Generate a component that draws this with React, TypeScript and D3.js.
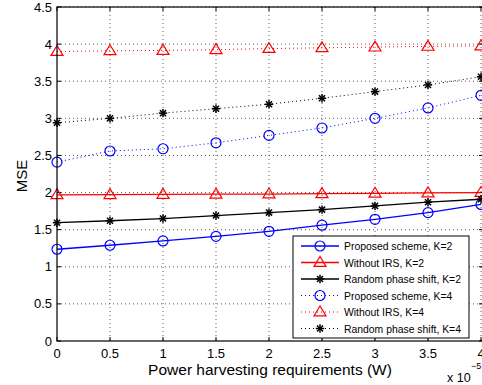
import React from "react";
import * as d3 from "d3";

const xValues = [0, 0.5, 1, 1.5, 2, 2.5, 3, 3.5, 4];
const proposedK2 = [1.236, 1.29, 1.348, 1.41, 1.478, 1.56, 1.64, 1.73, 1.84];
const withoutK2 = [1.97, 1.972, 1.975, 1.978, 1.98, 1.985, 1.99, 1.995, 2.0];
const randomK2 = [1.594, 1.62, 1.65, 1.69, 1.73, 1.77, 1.82, 1.87, 1.91];
const proposedK4 = [2.41, 2.56, 2.59, 2.67, 2.77, 2.87, 3.0, 3.14, 3.31];
const withoutK4 = [3.9, 3.91, 3.915, 3.925, 3.94, 3.95, 3.96, 3.97, 3.975];
const randomK4 = [2.94, 3.0, 3.07, 3.13, 3.19, 3.27, 3.36, 3.45, 3.56];

const xTicks = [0, 0.5, 1, 1.5, 2, 2.5, 3, 3.5, 4];
const yTicks = [0, 0.5, 1, 1.5, 2, 2.5, 3, 3.5, 4, 4.5];

const seriesNames = [
  "Proposed scheme, K=2",
  "Without IRS, K=2",
  "Random phase shift, K=2",
  "Proposed scheme, K=4",
  "Without IRS, K=4",
  "Random phase shift, K=4",
];

type Marker = "circle" | "triangle" | "star";
const seriesList: { name: string; values: number[]; color: string; dashed: boolean; marker: Marker }[] = [
  { name: seriesNames[0], values: proposedK2, color: "#0000ff", dashed: false, marker: "circle" },
  { name: seriesNames[1], values: withoutK2, color: "#ff0000", dashed: false, marker: "triangle" },
  { name: seriesNames[2], values: randomK2, color: "#000000", dashed: false, marker: "star" },
  { name: seriesNames[3], values: proposedK4, color: "#0000ff", dashed: true, marker: "circle" },
  { name: seriesNames[4], values: withoutK4, color: "#ff0000", dashed: true, marker: "triangle" },
  { name: seriesNames[5], values: randomK4, color: "#000000", dashed: true, marker: "star" },
];

const FONT = "'Liberation Sans', Arial, Helvetica, sans-serif";

function MarkerShape({ type, x, y, color }: { type: Marker; x: number; y: number; color: string }) {
  if (type === "circle") {
    return <circle cx={x} cy={y} r={5} fill="none" stroke={color} strokeWidth={1.2} />;
  }
  if (type === "triangle") {
    const s = 6;
    const pts = `${x},${y - s} ${x - s},${y + s * 0.65} ${x + s},${y + s * 0.65}`;
    return <polygon points={pts} fill="none" stroke={color} strokeWidth={1.2} />;
  }
  const r = 4.2;
  const d = r * 0.72;
  return (
    <g stroke={color} strokeWidth={1.5}>
      <line x1={x - r} y1={y} x2={x + r} y2={y} />
      <line x1={x} y1={y - r} x2={x} y2={y + r} />
      <line x1={x - d} y1={y - d} x2={x + d} y2={y + d} />
      <line x1={x - d} y1={y + d} x2={x + d} y2={y - d} />
    </g>
  );
}

export default function App() {
  const W = 482;
  const H = 385;
  const left = 57;
  const right = 481;
  const top = 7;
  const bottom = 341;

  const x = d3.scaleLinear().domain([0, 4]).range([left, right]);
  const y = d3.scaleLinear().domain([0, 4.5]).range([bottom, top]);

  const line = d3
    .line<number>()
    .x((_, i) => x(xValues[i]))
    .y((v) => y(v));

  const legX = 293;
  const legY = 236;
  const legW = 176;
  const legH = 102;
  const rowH = 16.5;

  return (
    <svg
      width={W}
      height={H}
      style={{ position: "absolute", left: 0, top: 0, background: "#fff" }}
      fontFamily={FONT}
    >
      <rect x={0} y={0} width={W} height={H} fill="#fff" />
      {/* grid */}
      <g stroke="#333" strokeWidth={0.8} strokeDasharray="1,3">
        {xTicks.slice(1).map((t) => (
          <line key={"gx" + t} x1={x(t)} x2={x(t)} y1={top} y2={bottom} />
        ))}
        {yTicks.slice(1).map((t) => (
          <line key={"gy" + t} x1={left} x2={right + 2} y1={y(t)} y2={y(t)} />
        ))}
      </g>
      {/* ticks inward */}
      <g stroke="#000" strokeWidth={1}>
        {xTicks.map((t) => (
          <g key={"tx" + t}>
            <line x1={x(t)} x2={x(t)} y1={bottom} y2={bottom - 4} />
            <line x1={x(t)} x2={x(t)} y1={top} y2={top + 4} />
          </g>
        ))}
        {yTicks.map((t) => (
          <g key={"ty" + t}>
            <line x1={left} x2={left + 4} y1={y(t)} y2={y(t)} />
            <line x1={right + 2} x2={right - 2} y1={y(t)} y2={y(t)} />
          </g>
        ))}
      </g>
      {/* series */}
      {seriesList.map((s) => (
        <g key={s.name}>
          <path
            d={line(s.values) || ""}
            fill="none"
            stroke={s.color}
            strokeWidth={s.dashed ? 1 : 1.3}
            strokeDasharray={s.dashed ? "1,3" : undefined}
          />
          {s.values.map((v, i) => (
            <MarkerShape key={i} type={s.marker} x={x(xValues[i])} y={y(v)} color={s.color} />
          ))}
        </g>
      ))}
      {/* axes box */}
      <rect x={left} y={top} width={right + 10 - left} height={bottom - top} fill="none" stroke="#000" strokeWidth={1.2} />
      {/* tick labels */}
      <g fontSize={13} fill="#000">
        {xTicks.map((t) => (
          <text key={"lx" + t} x={x(t)} y={bottom + 17} textAnchor="middle">
            {String(t)}
          </text>
        ))}
        {yTicks.map((t) => (
          <text key={"ly" + t} x={left - 5} y={y(t) + 4.5} textAnchor="end">
            {String(t)}
          </text>
        ))}
      </g>
      <text x={270} y={375} fontSize={15.5} textAnchor="middle">
        Power harvesting requirements (W)
      </text>
      <text x={0} y={0} fontSize={15} textAnchor="middle" transform={`translate(27,176) rotate(-90)`}>
        MSE
      </text>
      <text x={447} y={382} fontSize={12.5}>
        x 10
      </text>
      <text x={471} y={369} fontSize={9}>
        −5
      </text>
      {/* legend */}
      <g>
        <rect x={legX} y={legY} width={legW} height={legH} fill="#fff" stroke="#000" strokeWidth={1} />
        {seriesList.map((s, i) => {
          const cy = legY + 10 + i * rowH;
          return (
            <g key={"leg" + i}>
              <line
                x1={legX + 8}
                x2={legX + 46}
                y1={cy}
                y2={cy}
                stroke={s.color}
                strokeWidth={s.dashed ? 1 : 1.3}
                strokeDasharray={s.dashed ? "1,3" : undefined}
              />
              <MarkerShape type={s.marker} x={legX + 27} y={cy} color={s.color} />
              <text x={legX + 51} y={cy + 4} fontSize={10.4} fill="#000">
                {s.name}
              </text>
            </g>
          );
        })}
      </g>
    </svg>
  );
}
